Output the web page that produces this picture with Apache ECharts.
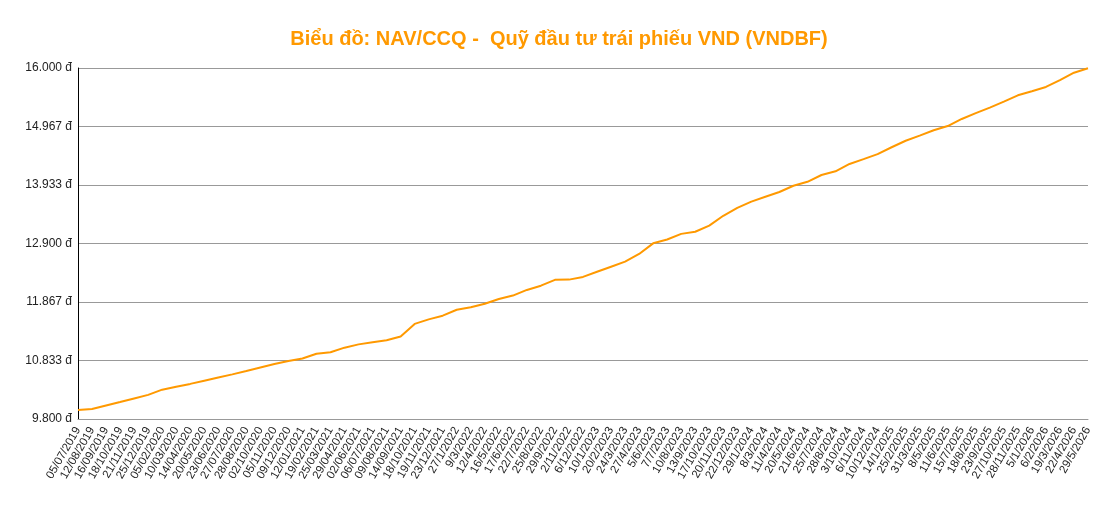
<!DOCTYPE html>
<html>
<head>
<meta charset="utf-8">
<script src="https://cdn.jsdelivr.net/npm/echarts@6/dist/echarts.min.js"></script>
<style>
    html, body { margin: 0; padding: 0; background: #fff; }
    #navChart { width: 1118px; height: 508px; }
</style>
</head>
<body>
<div id="navChart"></div>
<script>
var dates = [
    '05/07/2019', '12/08/2019', '16/09/2019', '18/10/2019', '21/11/2019', '25/12/2019',
    '05/02/2020', '10/03/2020', '14/04/2020', '20/05/2020', '23/06/2020', '27/07/2020',
    '28/08/2020', '02/10/2020', '05/11/2020', '09/12/2020',
    '12/01/2021', '19/02/2021', '25/03/2021', '29/04/2021', '02/06/2021', '06/07/2021',
    '09/08/2021', '14/09/2021', '18/10/2021', '19/11/2021', '23/12/2021',
    '27/1/2022', '9/3/2022', '12/4/2022', '16/5/2022', '17/6/2022', '22/7/2022',
    '25/8/2022', '29/9/2022', '2/11/2022', '6/12/2022',
    '10/1/2023', '20/2/2023', '24/3/2023', '27/4/2023', '5/6/2023', '7/7/2023',
    '10/8/2023', '13/9/2023', '17/10/2023', '20/11/2023', '22/12/2023',
    '29/1/2024', '8/3/2024', '11/4/2024', '20/5/2024', '21/6/2024', '25/7/2024',
    '28/8/2024', '3/10/2024', '6/11/2024', '10/12/2024',
    '14/1/2025', '25/2/2025', '31/3/2025', '8/5/2025', '11/6/2025', '15/7/2025',
    '18/8/2025', '23/9/2025', '27/10/2025', '28/11/2025',
    '5/1/2026', '6/2/2026', '19/3/2026', '22/4/2026', '29/5/2026'
];

var navValues = [
    9960, 9975, 10038, 10100, 10163, 10226,
    10318, 10370, 10420, 10477, 10533, 10588,
    10648, 10710, 10771, 10826,
    10868, 10953, 10978, 11060, 11118, 11157,
    11190, 11258, 11480, 11560, 11625,
    11730, 11773, 11835, 11920, 11980, 12080,
    12155, 12258, 12262, 12310,
    12400, 12490, 12580, 12715, 12903, 12970,
    13070, 13107, 13215, 13390, 13530,
    13639, 13725, 13810, 13920, 13990, 14110,
    14175, 14305, 14390, 14478,
    14600, 14715, 14805, 14900, 14975, 15100,
    15203, 15300, 15405, 15518,
    15590, 15665, 15785, 15917, 15995
];

var yMin = 9800;
var yMax = 16000;

function fmtDong(v) {
    var s = String(Math.round(v));
    return s.replace(/\B(?=(\d{3})+(?!\d))/g, '.') + ' đ';
}

var myChart = echarts.init(document.getElementById('navChart'));

var option = {
    backgroundColor: '#fff',
    textStyle: { fontFamily: 'Liberation Sans, Arial, sans-serif' },
    title: {
        text: 'Biểu đồ: NAV/CCQ -  Quỹ đầu tư trái phiếu VND (VNDBF)',
        left: 'center',
        top: 24,
        textStyle: {
            color: '#FF9900',
            fontSize: 20,
            fontWeight: 'bold',
            fontFamily: 'Liberation Sans, Arial, sans-serif'
        }
    },
    grid: {
        left: 78,
        right: 30,
        top: 68,
        bottom: 89
    },
    xAxis: {
        type: 'category',
        boundaryGap: false,
        data: dates,
        axisLine: { lineStyle: { color: '#999' } },
        axisTick: { show: false },
        axisLabel: {
            interval: 0,
            rotate: 60,
            color: '#222',
            fontSize: 11.5,
            margin: 9
        },
        splitLine: { show: false }
    },
    yAxis: {
        type: 'value',
        min: yMin,
        max: yMax,
        interval: (yMax - yMin) / 6,
        axisLine: { show: true, lineStyle: { color: '#000' } },
        axisTick: { show: false },
        axisLabel: {
            color: '#222',
            fontSize: 12,
            margin: 6,
            formatter: fmtDong
        },
        splitLine: { lineStyle: { color: '#999' } }
    },
    series: [{
        name: 'NAV/CCQ',
        type: 'line',
        data: navValues,
        symbol: 'none',
        lineStyle: { color: '#FF9900', width: 2 },
        itemStyle: { color: '#FF9900' }
    }]
};

myChart.setOption(option);
window.addEventListener('resize', function () {
    myChart.resize();
});
</script>
</body>
</html>
